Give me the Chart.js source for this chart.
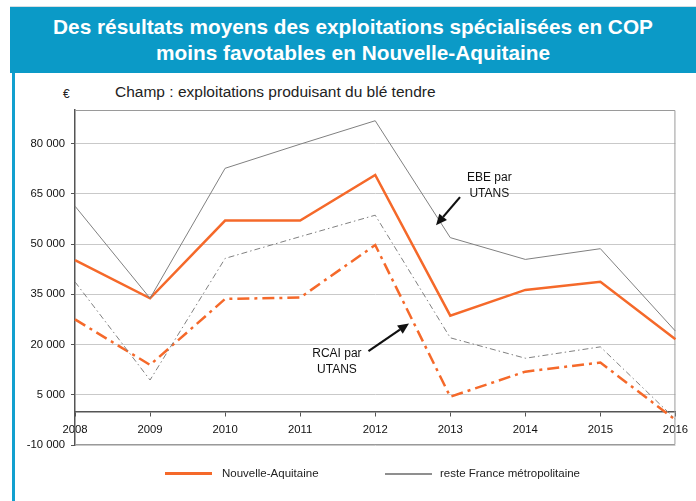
<!DOCTYPE html>
<html lang="fr">
<head>
<meta charset="utf-8">
<title>Résultats moyens COP — Nouvelle-Aquitaine</title>
<script src="https://cdn.jsdelivr.net/npm/chart.js@4.4.1/dist/chart.umd.min.js"></script>
<style>
    html, body { margin: 0; padding: 0; background: #fff; }
    body { width: 696px; height: 501px; position: relative; overflow: hidden;
           font-family: 'Liberation Sans', Arial, sans-serif; }
    .topline { position: absolute; left: 10px; right: 0; top: 6px; height: 1px; background: #d6dde2; }
    .header { position: absolute; left: 10px; right: 0; top: 7px; height: 66px; background: #0b9ac7;
              color: #fff; font-weight: bold; font-size: 20.8px; line-height: 26px; text-align: center;
              padding-top: 7px; box-sizing: border-box; }
    .sideline { position: absolute; left: 12px; top: 73px; bottom: 0; width: 3px; background: #12a0cf; }
    .euro { position: absolute; left: 63px; top: 87px; font-size: 12px; color: #222; }
    .subtitle { position: absolute; left: 115px; top: 83px; font-size: 15.5px; color: #222; }
    .chart-wrap { position: absolute; left: 0; top: 0; width: 696px; height: 501px; }
    .legend { position: absolute; top: 466px; left: 0; font-size: 11.5px; color: #222; }
    .legend .item { position: absolute; white-space: nowrap; line-height: 14px; }
    .legend .swatch { position: absolute; top: 6px; width: 47px; }
    .legend .label { position: absolute; }
</style>
</head>
<body>
<div class="topline"></div>
<div class="header">Des résultats moyens des exploitations spécialisées en COP<br>moins favotables en Nouvelle-Aquitaine</div>
<div class="sideline"></div>
<div class="euro">€</div>
<div class="subtitle">Champ : exploitations produisant du blé tendre</div>
<div class="chart-wrap"><canvas id="copChart"></canvas></div>
<div class="legend">
    <div class="item"><span class="swatch" style="left:165px;border-top:3px solid #f5692a;"></span><span class="label" style="left:222px;">Nouvelle-Aquitaine</span></div>
    <div class="item"><span class="swatch" style="left:385px;top:6.5px;border-top:2px solid #8f8f8f;"></span><span class="label" style="left:440px;">reste France métropolitaine</span></div>
</div>

<script>
// ─── DATA ───
const years = ['2008', '2009', '2010', '2011', '2012', '2013', '2014', '2015', '2016'];
const ebeNA      = [45200, 33800, 57000, 57000, 70600, 28600, 36300, 38700, 21600];
const ebeFrance  = [61300, 33800, 72600, 79800, 86800, 51900, 45400, 48600, 24000];
const rcaiNA     = [27500, 13900, 33600, 34000, 49700, 4400, 11900, 14600, -2500];
const rcaiFrance = [38700, 9400, 45700, 52200, 58600, 22000, 15900, 19300, -2300];
const yTicks = [-10000, 5000, 20000, 35000, 50000, 65000, 80000];
const yMin = -10000;
const yMax = 90000;

const ORANGE = '#f5692a';
const GREY = '#808080';
const FONT = "'Liberation Sans', Arial, sans-serif";

// annotations: [category index, value]
const notes = [
    { lines: ['EBE par', 'UTANS'], at: [5.52, 67300], from: [5.13, 64000], to: [4.81, 55600] },
    { lines: ['RCAI par', 'UTANS'], at: [3.49, 15000], from: [3.91, 18000], to: [4.45, 26300] },
];

const fmt = v => String(v).replace(/\B(?=(\d{3})+(?!\d))/g, ' ');

// ─── PLUGINS ───
const framePlugin = {
    id: 'frame',
    beforeDatasetsDraw(chart) {
        const { ctx, chartArea: a } = chart;
        ctx.save();
        ctx.strokeStyle = '#9a9a9a';
        ctx.lineWidth = 1;
        ctx.beginPath();
        ctx.moveTo(a.left, a.top + 0.5);
        ctx.lineTo(a.right - 0.5, a.top + 0.5);
        ctx.lineTo(a.right - 0.5, a.bottom - 0.5);
        ctx.lineTo(a.left, a.bottom - 0.5);
        ctx.stroke();
        ctx.restore();
    }
};

const notesPlugin = {
    id: 'notes',
    afterDraw(chart) {
        const { ctx, scales: { x, y } } = chart;
        const px = p => [x.getPixelForValue(p[0]), y.getPixelForValue(p[1])];
        ctx.save();
        ctx.fillStyle = '#111';
        ctx.strokeStyle = '#111';
        ctx.font = '12px ' + FONT;
        ctx.textAlign = 'center';
        ctx.textBaseline = 'middle';
        notes.forEach(n => {
            const [cx, cy] = px(n.at);
            ctx.fillText(n.lines[0], cx, cy - 8);
            ctx.fillText(n.lines[1], cx, cy + 8);

            const [x0, y0] = px(n.from);
            const [x1, y1] = px(n.to);
            const ang = Math.atan2(y1 - y0, x1 - x0);
            const hl = 11, hw = 5;
            const bx = x1 - hl * Math.cos(ang), by = y1 - hl * Math.sin(ang);
            ctx.lineWidth = 2.2;
            ctx.beginPath();
            ctx.moveTo(x0, y0);
            ctx.lineTo(bx, by);
            ctx.stroke();
            ctx.beginPath();
            ctx.moveTo(x1, y1);
            ctx.lineTo(bx + hw * Math.sin(ang), by - hw * Math.cos(ang));
            ctx.lineTo(bx - hw * Math.sin(ang), by + hw * Math.cos(ang));
            ctx.closePath();
            ctx.fill();
        });
        ctx.restore();
    }
};

// ─── CHART ───
document.addEventListener('DOMContentLoaded', () => {
    const ctx = document.getElementById('copChart');
    new Chart(ctx, {
        type: 'line',
        data: {
            labels: years,
            datasets: [
                { label: 'reste France RCAI', data: rcaiFrance, borderColor: GREY, borderWidth: 1, borderDash: [6, 3, 1.5, 3] },
                { label: 'reste France EBE', data: ebeFrance, borderColor: GREY, borderWidth: 1 },
                { label: 'Nouvelle-Aquitaine RCAI', data: rcaiNA, borderColor: ORANGE, borderWidth: 2.5, borderDash: [12, 5, 3, 5] },
                { label: 'Nouvelle-Aquitaine EBE', data: ebeNA, borderColor: ORANGE, borderWidth: 2.5 },
            ]
        },
        options: {
            responsive: true,
            maintainAspectRatio: false,
            animation: false,
            elements: {
                point: { radius: 0 },
                line: { tension: 0, fill: false, borderJoinStyle: 'miter' }
            },
            layout: { padding: { top: 110, right: 18, bottom: 56, left: 0 } },
            plugins: {
                legend: { display: false },
                tooltip: { enabled: false }
            },
            scales: {
                x: {
                    position: { y: 0 },
                    offset: false,
                    grid: { drawOnChartArea: false, drawTicks: true, tickLength: 4, color: '#555', tickColor: '#555' },
                    border: { display: true, color: '#555', width: 1.5 },
                    ticks: { color: '#111', font: { family: FONT, size: 11.3 }, padding: 8, autoSkip: false, maxRotation: 0 }
                },
                y: {
                    min: yMin,
                    max: yMax,
                    afterBuildTicks: s => { s.ticks = yTicks.map(v => ({ value: v })); },
                    afterFit: s => { s.width = 75; },
                    grid: { color: '#c9c9c9', tickColor: '#555', tickLength: 4 },
                    border: { display: true, color: '#555', width: 1.5 },
                    ticks: { color: '#111', font: { family: FONT, size: 11.3 }, padding: 6, callback: v => fmt(v) }
                }
            }
        },
        plugins: [framePlugin, notesPlugin]
    });
});
</script>
</body>
</html>
